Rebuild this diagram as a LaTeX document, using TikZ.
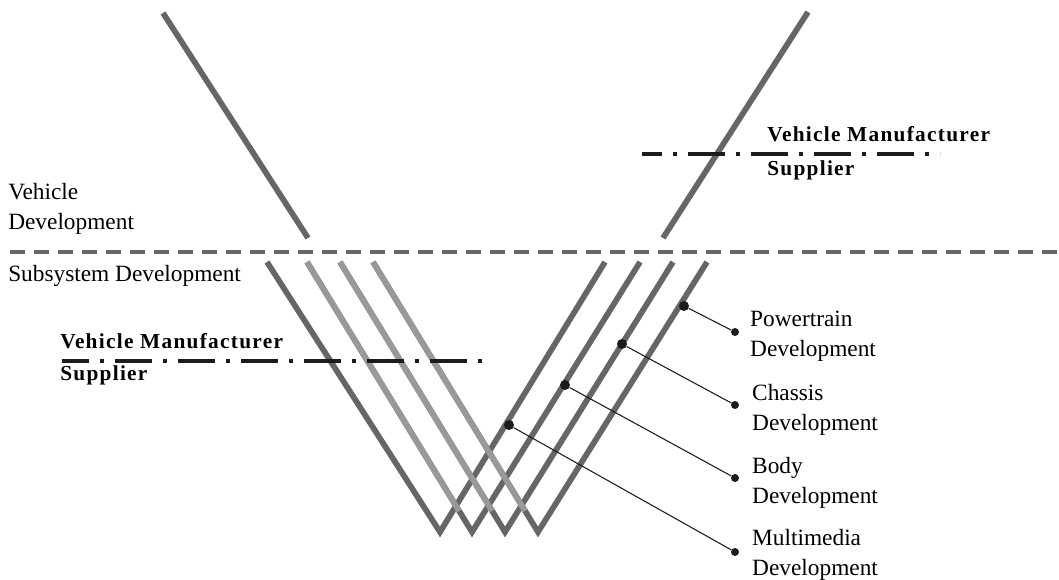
\documentclass[tikz,border=0pt]{standalone}
\usepackage{fontspec}
\setmainfont{Liberation Serif}
\newfontfamily\widebf[LetterSpace=6]{Liberation Serif}
\usetikzlibrary{positioning}
\definecolor{vdark}{RGB}{102,102,102}
\definecolor{vlight}{RGB}{153,153,153}
\definecolor{ink}{RGB}{28,28,28}

\tikzset{
  vline/.style={draw=vdark, line width=4.3pt},
  vlite/.style={draw=vlight, line width=4.3pt},
  levelcut/.style={draw=vdark, line width=3.2pt, dash pattern=on 11.25pt off 6.75pt},
  handover/.style={draw=ink, line width=3pt, dash pattern=on 27.75pt off 8.25pt on 3pt off 8.25pt},
  txt/.style={inner sep=0pt, font=\fontsize{17.5}{22.5}\selectfont, align=left},
  role/.style={inner sep=0pt, font=\widebf\bfseries\fontsize{16}{20}\selectfont},
  tap/.style={circle, fill=ink, inner sep=0pt, minimum size=7.5pt},
  lblend/.style={circle, fill=ink, inner sep=0pt, minimum size=6pt},
  leader/.style={draw=ink, line width=0.8pt},
}

\begin{document}
\begin{tikzpicture}[x=0.75pt,y=-0.75pt]
\useasboundingbox (0,0) rectangle (1059,580);

% vehicle level
\draw[vline] (163,13) -- (308,238);
\draw[vline] (808,12) -- (663,238);
\draw[levelcut] (10,252) -- (1059,252);

% subsystem level
\draw[vline] (267,262) -- (440,532) -- (605,262);
\draw[vline] (307,262) -- (472,532) -- (640,262);
\draw[vline] (340,262) -- (505,532) -- (673,262);
\draw[vline] (373,262) -- (538,532) -- (707,262);
\draw[vlite] (307,262) -- (459,511);
\draw[vlite] (340,262) -- (492,511);
\draw[vlite] (373,262) -- (525,511);

\node[txt, anchor=west] (veh) at (8,209) {Vehicle\\Development};
\node[txt, anchor=base west] (sub) at (8,282) {Subsystem Development};

% manufacturer / supplier borders
\draw[handover, dash phase=12.75pt] (642,154) -- (940,154);
\node[role, anchor=base west] (oem-up) at (767,142) {Vehicle Manufacturer};
\node[role, anchor=base west] (sup-up) at (767,176) {Supplier};

\draw[handover, dash phase=7.5pt] (62,361) -- (487,361);
\node[role, anchor=base west] (oem-low) at (60,349) {Vehicle Manufacturer};
\node[role, anchor=base west] (sup-low) at (60,381) {Supplier};

% subsystem labels
\node[tap] (pwr-tap) at (684,306) {};
\node[lblend] (pwr-end) at (735,332) {};
\draw[leader] (pwr-tap) -- (pwr-end);
\node[txt, right=8pt of pwr-end, yshift=-3.4pt] (pwr) {Powertrain\\Development};

\node[tap] (chs-tap) at (622,344) {};
\node[lblend] (chs-end) at (735,405) {};
\draw[leader] (chs-tap) -- (chs-end);
\node[txt, right=9.5pt of chs-end, yshift=-3.4pt] (chs) {Chassis\\Development};

\node[tap] (bdy-tap) at (565,385) {};
\node[lblend] (bdy-end) at (735,478) {};
\draw[leader] (bdy-tap) -- (bdy-end);
\node[txt, right=9.5pt of bdy-end, yshift=-3.4pt] (bdy) {Body\\Development};

\node[tap] (mmd-tap) at (509,425) {};
\node[lblend] (mmd-end) at (735,552) {};
\draw[leader] (mmd-tap) -- (mmd-end);
\node[txt, right=9.5pt of mmd-end, yshift=-2pt] (mmd) {Multimedia\\Development};
\end{tikzpicture}
\end{document}
